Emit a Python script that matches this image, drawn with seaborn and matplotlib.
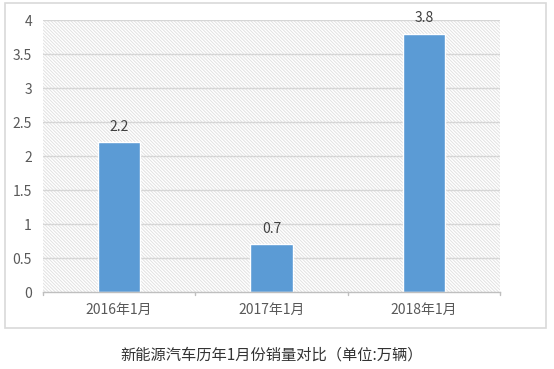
import matplotlib
matplotlib.use("Agg")
import matplotlib.pyplot as plt
import seaborn as sns
import pandas as pd
from matplotlib.patches import Rectangle

categories = ["2016年1月", "2017年1月", "2018年1月"]
values = [2.2, 0.7, 3.8]
yticks = [0, 0.5, 1, 1.5, 2, 2.5, 3, 3.5, 4]
ytick_labels = ["0", "0.5", "1", "1.5", "2", "2.5", "3", "3.5", "4"]
caption = "新能源汽车历年1月份销量对比（单位:万辆）"

sns.set_theme(style="white")
plt.rcParams['font.family'] = ['Noto Sans CJK SC', 'DejaVu Sans']
plt.rcParams['hatch.linewidth'] = 0.7

df = pd.DataFrame({"cat": categories, "val": values})

fig = plt.figure(figsize=(5.54, 3.69), dpi=100)
W, H = 554, 369

# outer chart frame
fig.patches.append(Rectangle((5 / W, 1 - 328 / H), (546 - 5) / W, (328 - 3) / H,
                             transform=fig.transFigure, fill=False,
                             edgecolor="#d9d9d9", linewidth=1.2))

ax = fig.add_axes([43 / W, 1 - 292 / H, (500 - 43) / W, (292 - 20) / H])

# hatched background
ax.add_patch(Rectangle((0, 0), 1, 1, transform=ax.transAxes, facecolor="white",
                       edgecolor="#e2e2e2", hatch="\\" * 10, linewidth=0, zorder=0))

sns.barplot(data=df, x="cat", y="val", color="#5B9BD5", width=0.28,
            saturation=1, ax=ax, zorder=3)

ax.set_ylim(0, 4)
ax.set_xlim(-0.5, 2.5)
ax.set_yticks(yticks)
ax.set_yticklabels(ytick_labels)
for y in yticks[1:]:
    ax.axhline(y, color="#d6d6d6", linewidth=1.0, zorder=1)

for s in ["top", "right", "left"]:
    ax.spines[s].set_visible(False)
ax.spines["bottom"].set_color("#bfbfbf")
ax.spines["bottom"].set_linewidth(1.0)
ax.spines["bottom"].set_zorder(4)

ax.tick_params(axis="y", length=0, labelsize=10, labelcolor="#595959", pad=8)
ax.tick_params(axis="x", length=0, labelsize=10, labelcolor="#595959", pad=8)
for xb in [-0.5, 0.5, 1.5, 2.5]:
    ax.plot([xb, xb], [0, -0.05], color="#bfbfbf", linewidth=1.0,
            clip_on=False, zorder=4)

ax.set_xlabel("")
ax.set_ylabel("")

for i, v in enumerate(values):
    ax.text(i, v + 0.12, f"{v}", ha="center", va="bottom", fontsize=10,
            color="#404040")

fig.text(272 / W, 1 - 355 / H, caption, ha="center", va="center",
         fontsize=11, color="#333333")

fig.savefig("out.png", dpi=100)
